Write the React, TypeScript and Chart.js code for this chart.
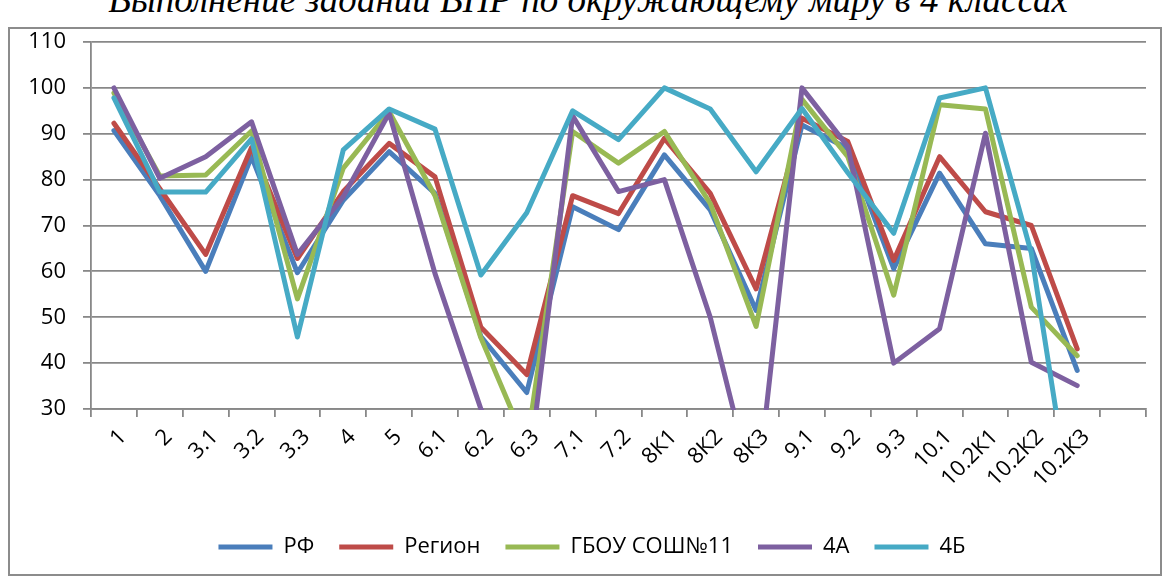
import { useEffect, useRef } from 'react';
import { Chart, registerables } from 'chart.js';
Chart.register(...registerables);

const TITLE = 'Выполнение заданий ВПР по окружающему миру в 4 классах';

const categories = ['1', '2', '3.1', '3.2', '3.3', '4', '5', '6.1', '6.2', '6.3', '7.1', '7.2', '8К1', '8К2', '8К3', '9.1', '9.2', '9.3', '10.1', '10.2К1', '10.2К2', '10.2К3', ''];

const seriesNames = ['РФ', 'Регион', 'ГБОУ СОШ№11', '4А', '4Б'];

const rf = [90.7, 76.5, 60, 85, 59.7, 75.5, 86.1, 77, 45.8, 33.6, 74.1, 69.1, 85.4, 73.4, 51.5, 91.9, 86.8, 60.6, 81.4, 66, 65, 38.4, null];
const region = [92.3, 78, 63.7, 87, 62.8, 77.4, 87.9, 80.6, 47.8, 37.5, 76.5, 72.6, 89, 77, 56.2, 93.4, 88.3, 62.4, 85, 73, 70, 43.1, null];
const gbou = [98.9, 80.8, 81, 90.6, 54, 82.5, 94.8, 76.5, 45.5, 22, 90.5, 83.6, 90.5, 74.8, 48, 97.5, 85, 54.8, 96.3, 95.4, 52.2, 41.6, null];
const class4a = [100, 80.3, 85, 92.6, 63.7, 76.3, 94.5, 59.5, 30, 13, 93.9, 77.4, 80, 50, 10, 100, 87.2, 40, 47.5, 90.1, 40.2, 35.1, null];
const class4b = [97.8, 77.3, 77.3, 88.9, 45.7, 86.5, 95.4, 91, 59.2, 72.8, 95, 88.7, 100, 95.4, 81.7, 95.5, 81.5, 68.3, 97.8, 100, 64, 0, null];

const colors = ['#4A7EBB', '#BE4B48', '#98B954', '#7D60A0', '#46AAC5'];

const yMin = 30;
const yMax = 110;
const yStep = 10;

const FONT = { family: '"Open Sans", sans-serif', size: 22 };
const GRID = '#888888';

export default function App() {
  const ref = useRef<HTMLCanvasElement>(null);

  useEffect(() => {
    const values = [rf, region, gbou, class4a, class4b];
    const chart = new Chart(ref.current!, {
      type: 'line',
      data: {
        labels: categories,
        datasets: values.map((v, i) => ({
          label: seriesNames[i],
          data: v,
          borderColor: colors[i],
          backgroundColor: colors[i],
          borderWidth: 5,
          pointRadius: 0,
          pointHoverRadius: 0,
          tension: 0,
          borderJoinStyle: 'round' as const,
          borderCapStyle: 'round' as const,
          clip: 1,
          order: 5 - i,
          spanGaps: false,
          yAxisID: 'y',
        })),
      },
      options: {
        responsive: false,
        animation: false,
        events: [],
        layout: { padding: { left: 0, right: 0, top: 42, bottom: 8 } },
        plugins: {
          title: { display: false },
          tooltip: { enabled: false },
          legend: {
            position: 'bottom',
            labels: {
              usePointStyle: true,
              pointStyle: 'line',
              pointStyleWidth: 54,
              padding: 25,
              color: '#000',
              font: FONT,
              sort: (a: any, b: any) => a.datasetIndex - b.datasetIndex,
            },
          },
        },
        scales: {
          x: {
            type: 'category',
            offset: true,
            grid: {
              display: true,
              offset: true,
              drawOnChartArea: false,
              drawTicks: true,
              tickLength: 8,
              color: GRID,
              lineWidth: 1.8,
            },
            border: { display: true, color: GRID, width: 1.8 },
            ticks: {
              autoSkip: false,
              minRotation: 45,
              maxRotation: 45,
              color: '#000',
              font: FONT,
              padding: 7,
              labelOffset: 9,
            },
            afterFit: (scale: any) => {
              scale.height = 102;
            },
          },
          y: {
            position: 'left',
            min: yMin,
            max: yMax,
            ticks: { stepSize: yStep, color: '#000', font: FONT, padding: 17 },
            grid: { color: GRID, lineWidth: 1.8, drawTicks: true, tickLength: 8 },
            border: { display: true, color: GRID, width: 1.8 },
            afterFit: (scale: any) => {
              scale.width = 91;
            },
          },
          yRight: {
            type: 'linear',
            position: 'right',
            display: true,
            grid: { display: false, drawTicks: false },
            border: { display: false },
            ticks: { display: false },
            afterFit: (scale: any) => {
              scale.width = 38;
            },
          },
        },
      },
    });
    return () => chart.destroy();
  }, []);

  return (
    <div style={{ position: 'fixed', left: 0, top: 0, width: 1163, height: 576, overflow: 'hidden', background: '#fff' }}>
      <div
        style={{
          position: 'absolute',
          left: 8,
          top: 27,
          width: 1154,
          height: 549,
          boxSizing: 'border-box',
          border: '2px solid #8c8c8c',
        }}
      />
      <div
        style={{
          position: 'absolute',
          left: -12,
          width: 1200,
          top: -19,
          textAlign: 'center',
          fontFamily: '"Liberation Serif", serif',
          fontStyle: 'italic',
          fontSize: 37,
          lineHeight: '37px',
          whiteSpace: 'nowrap',
          color: '#000',
        }}
      >
        {TITLE}
      </div>
      <canvas ref={ref} width={1184} height={576} style={{ position: 'absolute', left: 0, top: 0 }} />
    </div>
  );
}
